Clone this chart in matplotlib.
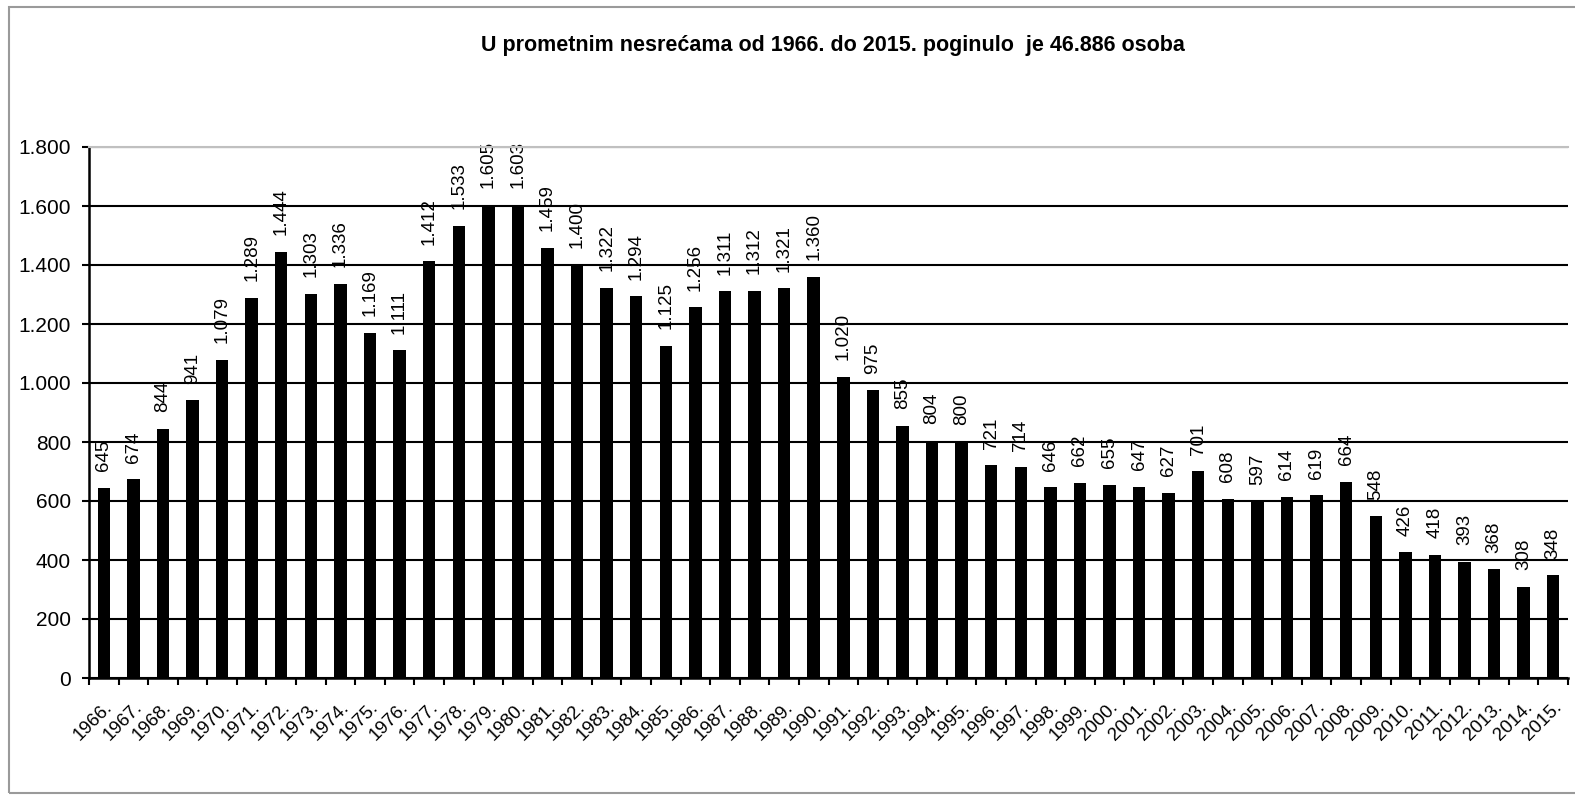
import matplotlib.pyplot as plt
from matplotlib.patches import Rectangle
from matplotlib.ticker import FixedLocator, FuncFormatter

plt.rcParams['font.family'] = ['Liberation Sans', 'DejaVu Sans']

years = [str(y) + '.' for y in range(1966, 2016)]
deaths = [645, 674, 844, 941, 1079, 1289, 1444, 1303, 1336, 1169,
          1111, 1412, 1533, 1605, 1603, 1459, 1400, 1322, 1294, 1125,
          1256, 1311, 1312, 1321, 1360, 1020, 975, 855, 804, 800,
          721, 714, 646, 662, 655, 647, 627, 701, 608, 597,
          614, 619, 664, 548, 426, 418, 393, 368, 308, 348]
title = 'U prometnim nesrećama od 1966. do 2015. poginulo  je 46.886 osoba'


def thousands(v):
    # 1444 -> "1.444"
    return f'{int(v):,}'.replace(',', '.')


fig = plt.figure(figsize=(15.75, 7.95), dpi=100)
fig.patches.append(Rectangle((9 / 1575, 2 / 795), 1.2, 786 / 795, transform=fig.transFigure,
                             fill=False, edgecolor='#9a9a9a', linewidth=1.5))

ax = fig.add_axes([89 / 1575, 1 - 678 / 795, (1568 - 89) / 1575, (678 - 147) / 795])

x = list(range(len(years)))
ax.bar(x, deaths, width=0.42, color='black', zorder=3)

ax.set_xlim(-0.5, len(years) - 0.5)
ax.set_ylim(0, 1800)
ax.set_yticks(range(0, 1801, 200))
ax.yaxis.set_major_formatter(FuncFormatter(lambda v, p: thousands(v)))
ax.tick_params(axis='y', labelsize=15, length=5, width=1.5, direction='out', pad=8)

ax.set_xticks(x)
ax.set_xticklabels(years, rotation=45, ha='right', rotation_mode='anchor', fontsize=13.5)
ax.tick_params(axis='x', which='major', length=0, pad=15)
ax.xaxis.set_minor_locator(FixedLocator([i - 0.5 for i in range(len(years) + 1)]))
ax.tick_params(axis='x', which='minor', length=5, width=1.5, direction='out')

ax.yaxis.grid(True, color='black', linewidth=1.5, zorder=1)
ax.spines['right'].set_visible(False)
ax.spines['top'].set_color('#c0c0c0')
ax.spines['top'].set_linewidth(1.5)
ax.spines['left'].set_linewidth(1.8)
ax.spines['bottom'].set_linewidth(1.8)

for xi, v in zip(x, deaths):
    ax.annotate(thousands(v), (xi, v), xytext=(0, 12), textcoords='offset points',
                rotation=90, ha='center', va='bottom', fontsize=13.5, zorder=2,
                annotation_clip=False)

fig.text(833 / 1575, 1 - 45 / 795, title, fontsize=15.5, fontweight='bold',
         ha='center', va='center')

plt.savefig('out.png', dpi=100)
